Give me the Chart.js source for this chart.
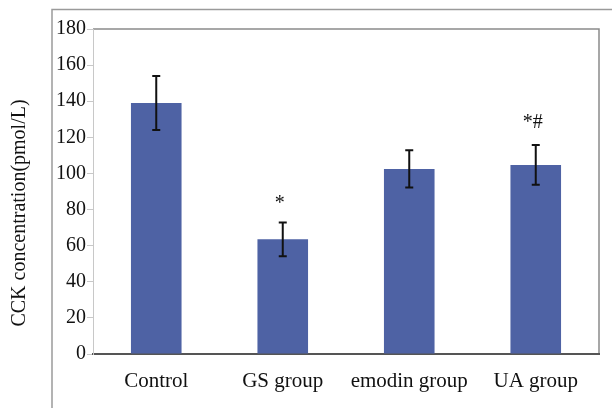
<!DOCTYPE html>
<html>
<head>
<meta charset="utf-8">
<script src="https://cdn.jsdelivr.net/npm/chart.js@4/dist/chart.umd.min.js"></script>
<style>
html,body{margin:0;padding:0;background:#fff;}
#wrap{width:612px;height:408px;position:relative;}
</style>
</head>
<body>
<div id="wrap"><canvas id="c" width="612" height="408"></canvas></div>
<script>
const categories = ["Control", "GS group", "emodin group", "UA group"];
const means = [139, 63.5, 102.5, 104.7];
const errors = [15, 9.3, 10.3, 11];
const marks = ["", "*", "", "*#"];
const yTicks = [0, 20, 40, 60, 80, 100, 120, 140, 160, 180];
const yTitle = "CCK concentration(pmol/L)";

const FONT = "'Liberation Serif', 'Times New Roman', serif";

const decor = {
  id: 'decor',
  beforeDraw(chart) {
    const ctx = chart.ctx, a = chart.chartArea;
    ctx.save();
    ctx.fillStyle = '#fff';
    ctx.fillRect(0, 0, chart.width, chart.height);
    ctx.strokeStyle = '#9a9a9a';
    ctx.lineWidth = 1.5;
    ctx.beginPath();
    ctx.moveTo(52, 408); ctx.lineTo(52, 9.5); ctx.lineTo(612, 9.5);
    ctx.stroke();
    ctx.strokeStyle = '#8a8a8a';
    ctx.beginPath();
    ctx.moveTo(a.left, a.top); ctx.lineTo(a.right, a.top); ctx.lineTo(a.right, a.bottom);
    ctx.stroke();
    ctx.translate(20, 213);
    ctx.rotate(-Math.PI / 2);
    ctx.fillStyle = '#111';
    ctx.font = '20px ' + FONT;
    ctx.textAlign = 'center';
    ctx.textBaseline = 'middle';
    ctx.fillText(yTitle, 0, 0);
    ctx.restore();
  },
  afterDatasetsDraw(chart) {
    const ctx = chart.ctx, x = chart.scales.x, y = chart.scales.y;
    ctx.save();
    ctx.strokeStyle = '#111';
    ctx.lineWidth = 2;
    ctx.fillStyle = '#111';
    ctx.font = '20px ' + FONT;
    ctx.textAlign = 'center';
    ctx.textBaseline = 'alphabetic';
    means.forEach((m, i) => {
      const cx = x.getPixelForValue(i);
      const yt = y.getPixelForValue(m + errors[i]);
      const yb = y.getPixelForValue(m - errors[i]);
      ctx.beginPath();
      ctx.moveTo(cx, yt); ctx.lineTo(cx, yb);
      ctx.moveTo(cx - 4, yt); ctx.lineTo(cx + 4, yt);
      ctx.moveTo(cx - 4, yb); ctx.lineTo(cx + 4, yb);
      ctx.stroke();
      if (marks[i]) ctx.fillText(marks[i], cx - 3, yt - 14 - 3 * (marks[i].length - 1));
    });
    ctx.restore();
  }
};

new Chart(document.getElementById('c'), {
  type: 'bar',
  data: {
    labels: categories,
    datasets: [{
      data: means,
      backgroundColor: '#4e62a4',
      borderWidth: 0,
      barPercentage: 0.4,
      categoryPercentage: 1.0
    }]
  },
  options: {
    responsive: false,
    animation: false,
    devicePixelRatio: 1,
    layout: { padding: { left: 0, right: 13, top: 29, bottom: 0 } },
    plugins: { legend: { display: false }, tooltip: { enabled: false } },
    scales: {
      x: {
        grid: { display: false },
        border: { color: '#555', width: 2 },
        ticks: { color: '#111', font: { family: FONT, size: 21 }, padding: 7, maxRotation: 0 },
        afterFit(s) { s.height = 54; }
      },
      y: {
        min: 0, max: 180,
        afterBuildTicks(s) { s.ticks = yTicks.map(v => ({ value: v })); },
        grid: { drawOnChartArea: false, tickLength: 6, color: '#c8c8c8' },
        border: { color: '#c8c8c8', width: 1 },
        ticks: { color: '#111', font: { family: FONT, size: 20 }, padding: 1 },
        afterFit(s) { s.width = 93; }
      }
    }
  },
  plugins: [decor]
});
</script>
</body>
</html>
